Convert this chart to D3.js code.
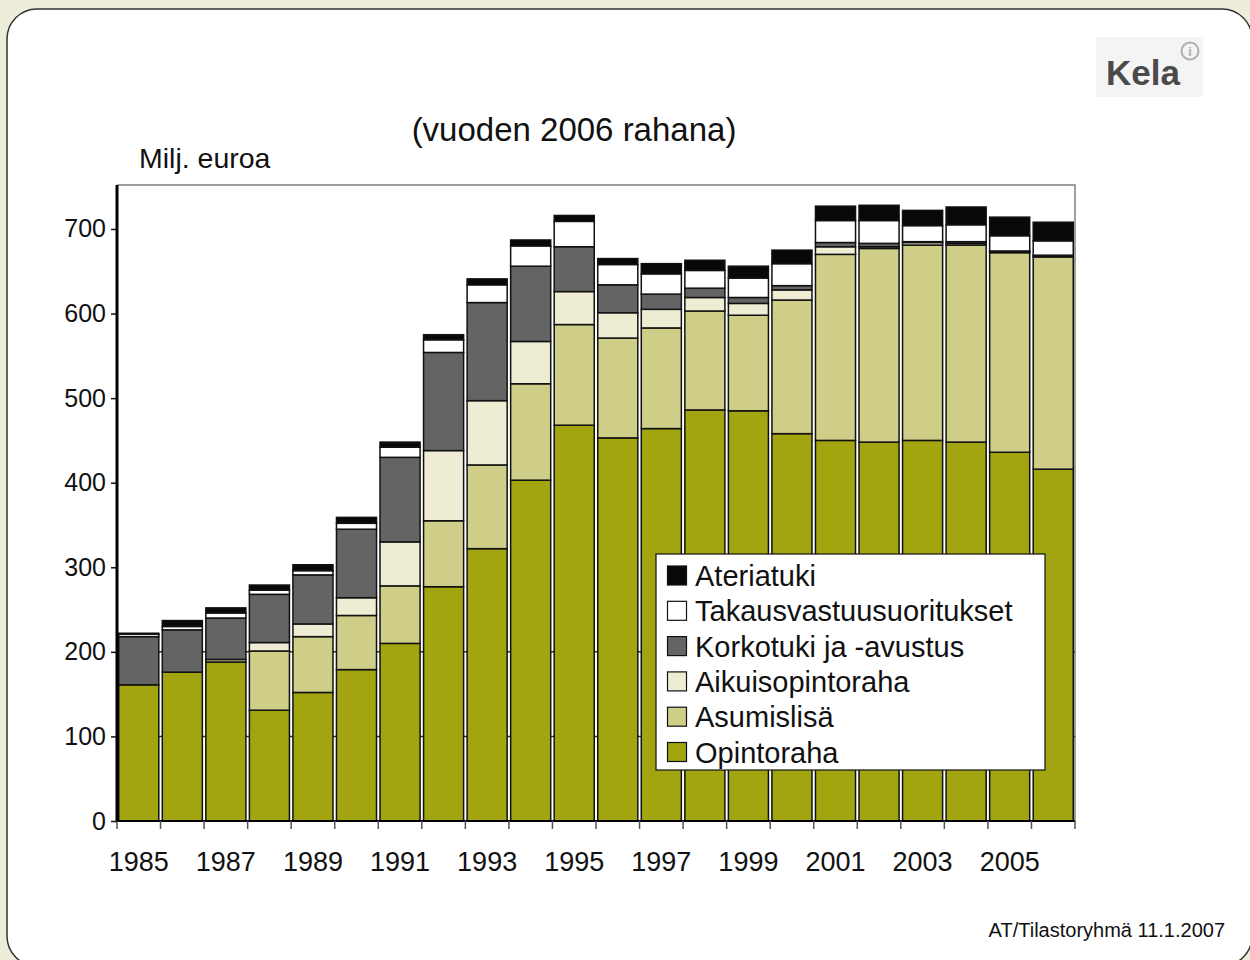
<!DOCTYPE html>
<html>
  <head>
    <meta charset="utf-8">
    <title>Opintotuki 1985-2006</title>
    <script src="https://d3js.org/d3.v7.min.js"></script>
    <style>
      body { margin: 0; background: #eeedd9; }
      svg { display: block; font-family: "Liberation Sans", Arial, sans-serif; }
    </style>
  </head>
  <body>
    <svg id="chart" width="1250" height="960"></svg>
    <script>
      // data (milj. euroa, vuoden 2006 rahana)
      const years = d3.range(1985, 2007);
      const opintoraha = [161, 176, 188, 131, 152, 179, 210, 277, 322, 403, 468, 453, 464, 486, 485, 458, 450, 448, 450, 448, 436, 416];
      const asumislisa = [0, 0, 3, 70, 66, 64, 68, 78, 99, 114, 119, 118, 119, 117, 113, 158, 220, 229, 231, 233, 236, 251];
      const aikuisopintoraha = [0, 0, 0, 10, 15, 21, 52, 83, 76, 50, 39, 30, 22, 16, 14, 12, 9, 2, 3, 2, 1, 1];
      const korkotuki = [57, 50, 49, 57, 58, 81, 100, 116, 116, 89, 53, 33, 18, 11, 7, 5, 5, 4, 1, 2, 1, 1];
      const takaus = [3, 4, 6, 5, 5, 7, 12, 15, 21, 24, 30, 24, 24, 21, 23, 26, 26, 27, 19, 20, 18, 17];
      const ateriatuki = [1, 7, 6, 6, 7, 7, 6, 6, 7, 7, 7, 7, 12, 12, 14, 16, 17, 18, 18, 21, 22, 22];
      const seriesNames = ["Opintoraha", "Asumislisä", "Aikuisopintoraha", "Korkotuki ja -avustus", "Takausvastuusuoritukset", "Ateriatuki"];
      const yTicks = [0, 100, 200, 300, 400, 500, 600, 700];
      const gridTicks = [100, 200];
      const labelYears = years.filter(function(d) { return d % 2 == 1; });

      const colours = ["#a2a410", "#cfce88", "#eeedd4", "#646464", "#ffffff", "#080808"];

      // build table for d3.stack
      const table = years.map(function(yr, i) {
        return {
          year: yr,
          "Opintoraha": opintoraha[i],
          "Asumislisä": asumislisa[i],
          "Aikuisopintoraha": aikuisopintoraha[i],
          "Korkotuki ja -avustus": korkotuki[i],
          "Takausvastuusuoritukset": takaus[i],
          "Ateriatuki": ateriatuki[i]
        };
      });
      const stacked = d3.stack().keys(seriesNames)(table);

      const svg = d3.select("#chart");

      // background panel
      svg.append("rect")
        .attr("x", 7)
        .attr("y", 9)
        .attr("width", 1245)
        .attr("height", 957)
        .attr("rx", 30)
        .attr("fill", "#fff")
        .attr("stroke", "#333")
        .attr("stroke-width", 1.5);

      // logo
      const logo = svg.append("g").attr("transform", "translate(1096, 37)");
      logo.append("rect")
        .attr("width", 107)
        .attr("height", 60)
        .attr("fill", "#f4f4f4");
      logo.append("text")
        .attr("x", 10)
        .attr("y", 48)
        .attr("font-size", 35)
        .attr("font-weight", "bold")
        .attr("fill", "#4a4a4a")
        .text("Kela");
      logo.append("circle")
        .attr("cx", 94)
        .attr("cy", 14)
        .attr("r", 8.5)
        .attr("fill", "none")
        .attr("stroke", "#b0b0b0")
        .attr("stroke-width", 2);
      logo.append("text")
        .attr("x", 94)
        .attr("y", 19)
        .attr("text-anchor", "middle")
        .attr("font-size", 13)
        .attr("font-weight", "bold")
        .attr("fill", "#b0b0b0")
        .text("i");

      // titles
      svg.append("text")
        .attr("x", 574)
        .attr("y", 141)
        .attr("text-anchor", "middle")
        .attr("font-size", 33)
        .attr("fill", "#111")
        .text("(vuoden 2006 rahana)");
      svg.append("text")
        .attr("x", 139)
        .attr("y", 168)
        .attr("font-size", 28.5)
        .attr("fill", "#111")
        .text("Milj. euroa");
      svg.append("text")
        .attr("x", 1225)
        .attr("y", 937)
        .attr("text-anchor", "end")
        .attr("font-size", 20)
        .attr("fill", "#111")
        .text("AT/Tilastoryhmä 11.1.2007");

      // scales
      const plotLeft = 117, plotRight = 1075, plotTop = 185, plotBottom = 821;
      const x = d3.scaleBand()
        .domain(years)
        .range([plotLeft, plotRight])
        .paddingInner(0.08)
        .paddingOuter(0.04);
      const y = d3.scaleLinear()
        .domain([0, 752])
        .range([plotBottom, plotTop]);

      // frame (top and right, grey)
      svg.append("path")
        .attr("d", "M" + plotLeft + "," + plotTop + "H" + plotRight + "V" + plotBottom)
        .attr("fill", "none")
        .attr("stroke", "#808080")
        .attr("stroke-width", 1.5);

      // grid lines (only visible in the gaps between bars)
      svg.append("g")
        .selectAll("line")
        .data(gridTicks)
        .join("line")
          .attr("x1", plotLeft)
          .attr("x2", plotRight)
          .attr("y1", function(d) { return y(d); })
          .attr("y2", function(d) { return y(d); })
          .attr("stroke", "#333")
          .attr("stroke-width", 1.5);

      // bars
      svg.append("g")
        .selectAll("g")
        .data(stacked)
        .join("g")
          .attr("fill", function(d, i) { return colours[i]; })
        .selectAll("rect")
        .data(function(d) { return d.filter(function(e) { return e[1] - e[0] > 0; }); })
        .join("rect")
          .attr("x", function(d) { return x(d.data.year); })
          .attr("width", x.bandwidth())
          .attr("y", function(d) { return y(d[1]); })
          .attr("height", function(d) { return y(d[0]) - y(d[1]); })
          .attr("stroke", "#111")
          .attr("stroke-width", 1.5);

      // x axis: ticks at category boundaries, labels every other year
      const step = x.step();
      const boundaries = d3.range(years.length + 1).map(function(i) { return plotLeft + i * step; });
      const xAxisG = svg.append("g");
      xAxisG.append("line")
        .attr("x1", plotLeft)
        .attr("x2", plotRight)
        .attr("y1", plotBottom)
        .attr("y2", plotBottom)
        .attr("stroke", "#000")
        .attr("stroke-width", 2);
      xAxisG.selectAll(".tick")
        .data(boundaries)
        .join("line")
          .attr("class", "tick")
          .attr("x1", function(d) { return d; })
          .attr("x2", function(d) { return d; })
          .attr("y1", plotBottom)
          .attr("y2", plotBottom + 8)
          .attr("stroke", "#555")
          .attr("stroke-width", 1.5);
      xAxisG.selectAll(".label")
        .data(labelYears)
        .join("text")
          .attr("class", "label")
          .attr("x", function(d) { return x(d) + x.bandwidth() / 2; })
          .attr("y", 871)
          .attr("text-anchor", "middle")
          .attr("font-size", 27)
          .attr("fill", "#111")
          .text(function(d) { return d; });

      // y axis
      const yAxis = d3.axisLeft(y)
        .tickValues(yTicks)
        .tickSize(6)
        .tickPadding(5);
      const yAxisG = svg.append("g")
        .attr("transform", "translate(" + plotLeft + ",0)")
        .call(yAxis);
      yAxisG.select(".domain").remove();
      yAxisG.selectAll(".tick line").attr("stroke", "#111").attr("stroke-width", 1.5);
      yAxisG.selectAll(".tick text")
        .attr("font-size", 25)
        .attr("font-family", "'Liberation Sans', Arial, sans-serif")
        .attr("fill", "#111");
      svg.append("line")
        .attr("x1", plotLeft)
        .attr("x2", plotLeft)
        .attr("y1", plotTop)
        .attr("y2", plotBottom)
        .attr("stroke", "#000")
        .attr("stroke-width", 3);

      // legend
      const legend = svg.append("g").attr("transform", "translate(656, 554)");
      legend.append("rect")
        .attr("width", 389)
        .attr("height", 216)
        .attr("fill", "#fff")
        .attr("stroke", "#111")
        .attr("stroke-width", 1.2);
      const rows = legend.selectAll(".row")
        .data(seriesNames.slice().reverse())
        .join("g")
          .attr("class", "row")
          .attr("transform", function(d, i) { return "translate(0," + (22 + i * 35.3) + ")"; });
      rows.append("rect")
        .attr("x", 11.5)
        .attr("y", -10)
        .attr("width", 19)
        .attr("height", 19)
        .attr("fill", function(d) { return colours[seriesNames.indexOf(d)]; })
        .attr("stroke", "#111")
        .attr("stroke-width", 1.2);
      rows.append("text")
        .attr("x", 39)
        .attr("y", 10)
        .attr("font-size", 29)
        .attr("fill", "#111")
        .text(function(d) { return d; });
    </script>
  </body>
</html>
